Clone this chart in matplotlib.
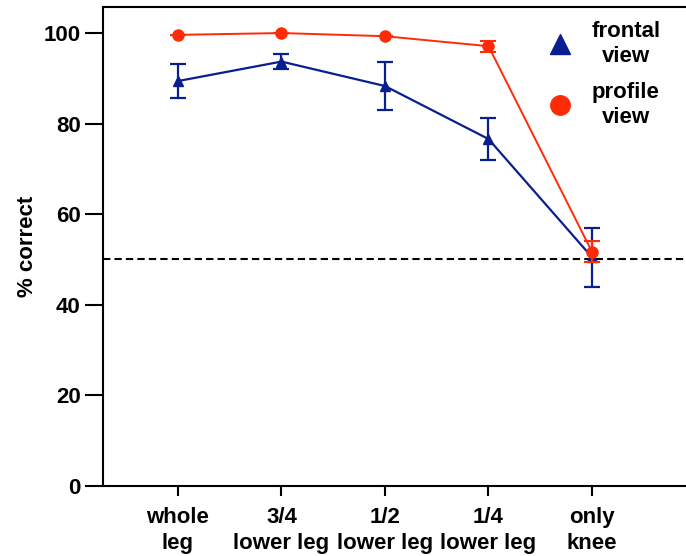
import matplotlib
matplotlib.use("Agg")
import matplotlib.pyplot as plt
from matplotlib.lines import Line2D

plt.rcParams['font.family'] = ['Liberation Sans', 'DejaVu Sans']
plt.rcParams['font.weight'] = 'bold'

categories = ["whole\nleg", "3/4\nlower leg", "1/2\nlower leg", "1/4\nlower leg", "only\nknee"]
frontal = [89.4, 93.7, 88.3, 76.6, 50.5]
frontal_err = [3.8, 1.7, 5.4, 4.6, 6.5]
profile = [99.6, 100.0, 99.3, 97.1, 51.7]
profile_err = [0.0, 0.0, 0.0, 1.2, 2.3]
chance = 50
yticks = [0, 20, 40, 60, 80, 100]

blue = '#0a1f8f'
red = '#ff2b06'
fs = 16

fig = plt.figure(figsize=(6.86, 5.56), dpi=100)
ax = fig.add_axes([0.150, 0.126, 0.850, 0.861])

x = list(range(1, len(categories) + 1))

ax.axhline(chance, color='black', lw=1.5, ls=(0, (3.5, 2)), zorder=1)

ax.errorbar(x, frontal, yerr=frontal_err, color=blue, lw=1.6, marker='^',
            markersize=7.5, capsize=5.8, capthick=1.6, elinewidth=1.6, zorder=3)
ax.errorbar(x, profile, yerr=profile_err, color=red, lw=1.4, marker='o',
            markersize=8, capsize=5.5, capthick=1.5, elinewidth=1.5, zorder=4)

ax.set_xlim(0.275, 5.908)
ax.set_ylim(0, 105.7)
ax.set_xticks(x)
ax.set_xticklabels(categories, fontsize=fs, fontweight='bold', linespacing=1.3)
ax.set_yticks(yticks)
ax.set_yticklabels([str(v) for v in yticks], fontsize=fs, fontweight='bold')
ax.tick_params(axis='y', direction='out', length=13, width=1.5, pad=3)
ax.tick_params(axis='x', direction='out', length=7, width=1.5, pad=8)

for side in ['left', 'bottom', 'top']:
    ax.spines[side].set_linewidth(1.5)
ax.spines['right'].set_visible(False)

ax.set_ylabel('% correct', fontsize=fs, fontweight='bold', labelpad=4)

handles = [
    Line2D([], [], color=blue, marker='^', linestyle='none', markersize=14),
    Line2D([], [], color=red, marker='o', linestyle='none', markersize=14),
]
leg = ax.legend(handles, ["frontal\nview", "profile\nview"], loc='upper left',
                bbox_to_anchor=(0.73, 1.014), frameon=False,
                handlelength=1.0, handletextpad=0.95, labelspacing=0.7,
                prop={'weight': 'bold', 'size': fs})
for t in leg.get_texts():
    t.set_multialignment('center')
    t.set_linespacing(1.25)

fig.savefig('out.png', dpi=100)
